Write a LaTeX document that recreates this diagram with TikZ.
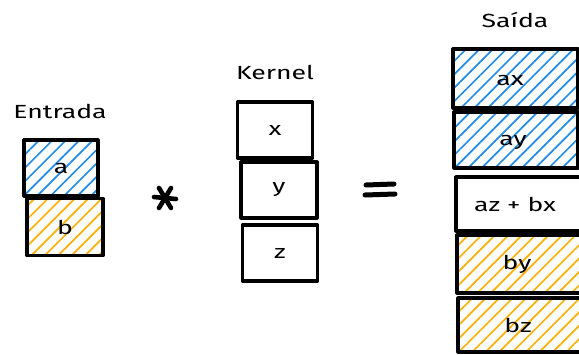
\documentclass[tikz,border=0pt]{standalone}
\usepackage{fontspec}
\newfontfamily\handfont[FakeStretch=1.4]{Fira Sans}
\usetikzlibrary{patterns.meta}
\definecolor{hatchblue}{HTML}{228BE6}
\definecolor{hatchorange}{HTML}{FAB005}

\tikzset{
  cell/.style={draw=black, line width=3.2pt, line join=round, inner sep=0pt},
  hatch/.style={pattern={Lines[angle=45,distance=9.5pt,line width=1.7pt]}, pattern color=#1},
  bluefill/.style={hatch=hatchblue},
  orangefill/.style={hatch=hatchorange},
  caption/.style={font=\handfont\fontsize{19}{21}\selectfont},
  opstroke/.style={line width=4.6pt, line cap=round},
}

\begin{document}
\begin{tikzpicture}[x=1pt,y=-1pt]
  \useasboundingbox (0,0) rectangle (579,354);
  \clip (0,0) rectangle (579,354);

  % input vector
  \node[caption] (lin) at (60,111) {Entrada};
  \node[cell, bluefill, minimum width=74pt, minimum height=56pt] (a) at (61,168) {};
  \node[cell, orangefill, minimum width=76pt, minimum height=57pt] (b) at (65,227) {};
  \node[caption] at (a) {a};
  \node[caption] at (b) {b};

  % convolution operator
  \coordinate (star) at (165,198);
  \draw[opstroke] ([shift={(-11,-1)}]star) -- ([shift={(11,1)}]star);
  \draw[opstroke] ([shift={(-6,-10)}]star) -- ([shift={(6,10)}]star);
  \draw[opstroke] ([shift={(6,-10)}]star) -- ([shift={(-6,10)}]star);

  % kernel
  \node[caption] (lker) at (275,72) {Kernel};
  \node[cell, minimum width=75pt, minimum height=56pt] (x) at (275,130) {};
  \node[cell, minimum width=76pt, minimum height=56pt] (y) at (279,190) {};
  \node[cell, minimum width=75pt, minimum height=56pt] (z) at (280,253) {};
  \node[caption] at (x) {x};
  \node[caption] at (y) {y};
  \node[caption] at (z) {z};

  % equals sign
  \coordinate (eq) at (380,190);
  \draw[opstroke, line width=5pt] ([shift={(-14,-5)}]eq) -- ([shift={(14,-6)}]eq);
  \draw[opstroke, line width=5pt] ([shift={(-15,5)}]eq) -- ([shift={(15,4)}]eq);

  % output vector
  \node[caption] (lout) at (515,20) {Saída};
  \node[cell, bluefill, minimum width=125pt, minimum height=59pt] (ax) at (515.5,78.5) {};
  \node[cell, bluefill, minimum width=124pt, minimum height=56pt] (ay) at (516,140) {};
  \node[cell, minimum width=125pt, minimum height=54pt] (azbx) at (518.5,204) {};
  \node[cell, orangefill, minimum width=125pt, minimum height=58pt] (by) at (519.5,264) {};
  \node[cell, orangefill, minimum width=125pt, minimum height=54pt] (bz) at (520.5,325) {};
  \node[caption] at (510,80) {ax};
  \node[caption] at (513,142) {ay};
  \node[caption] at (515,204) {az + bx};
  \node[caption] at (517,264) {by};
  \node[caption] at (518,325) {bz};
\end{tikzpicture}
\end{document}
